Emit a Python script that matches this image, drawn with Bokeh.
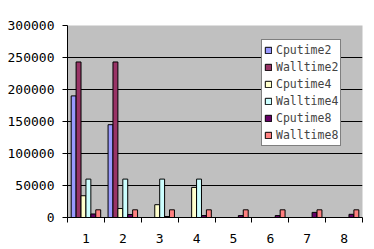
from bokeh.plotting import figure
from bokeh.models import (Range1d, FixedTicker, NumeralTickFormatter, Legend, LegendItem,
                          ColumnDataSource)
from bokeh.embed import file_html
from bokeh.resources import INLINE

categories = ["1", "2", "3", "4", "5", "6", "7", "8"]
series_names = ["Cputime2", "Walltime2", "Cputime4", "Walltime4", "Cputime8", "Walltime8"]
cputime2 = [190000, 145000, 0, 0, 0, 0, 0, 0]
walltime2 = [243000, 243000, 0, 0, 0, 0, 0, 0]
cputime4 = [34000, 14000, 20000, 47000, 0, 0, 0, 0]
walltime4 = [60000, 60000, 60000, 60000, 0, 0, 0, 0]
cputime8 = [5500, 4700, 1500, 3000, 3000, 3000, 8000, 5000]
walltime8 = [12000, 12000, 12000, 12000, 12000, 12000, 12000, 12000]
series_values = [cputime2, walltime2, cputime4, walltime4, cputime8, walltime8]
colors = ["#9999FF", "#993366", "#FFFFCC", "#CCFFFF", "#660066", "#FF8080"]
y_ticks = [0, 50000, 100000, 150000, 200000, 250000, 300000]

FONT = "DejaVu Sans Mono"

p = figure(width=374, height=249, output_backend="svg", toolbar_location=None,
           x_range=Range1d(0.5, 8.5), y_range=Range1d(0, 300000),
           min_border_left=67, min_border_right=12, min_border_top=25, min_border_bottom=32)
p.background_fill_color = "#C0C0C0"
p.border_fill_color = "white"
p.outline_line_color = None

bw = 0.8 / 6
xs = [i + 1 for i in range(len(categories))]
renderers = []
for k, (name, vals, col) in enumerate(zip(series_names, series_values, colors)):
    off = -0.4 + bw * (k + 0.5)
    src = ColumnDataSource(dict(x=[x + off for x in xs], top=vals))
    r = p.vbar(x="x", top="top", bottom=0, width=bw, source=src,
               fill_color=col, line_color="black", line_width=1)
    renderers.append((name, r))

# axes
p.xgrid.grid_line_color = None
p.ygrid.grid_line_color = "black"
p.ygrid.grid_line_width = 1

p.xaxis.ticker = FixedTicker(ticks=xs, minor_ticks=[x - 0.5 for x in xs] + [8.5])
p.xaxis.major_label_overrides = {x: c for x, c in zip(xs, categories)}
p.xaxis.major_tick_out = 0
p.xaxis.major_tick_in = 0
p.xaxis.minor_tick_out = 5
p.xaxis.minor_tick_in = 0
p.xaxis.minor_tick_line_color = "black"
p.xaxis.major_label_standoff = 11
p.xaxis.axis_line_color = "black"

p.yaxis.ticker = FixedTicker(ticks=y_ticks)
p.yaxis.formatter = NumeralTickFormatter(format="0")
p.yaxis.major_tick_out = 5
p.yaxis.major_tick_in = 0
p.yaxis.minor_tick_line_color = None
p.yaxis.major_label_standoff = 8
p.yaxis.axis_line_color = "black"

for ax in (p.xaxis, p.yaxis):
    ax.major_label_text_font = FONT
    ax.major_label_text_font_size = "13px"
    ax.major_label_text_color = "black"
    ax.major_tick_line_color = "black"

legend = Legend(items=[LegendItem(label=n, renderers=[r]) for n, r in renderers],
                location=(194, 71))
legend.border_line_color = "black"
legend.border_line_width = 1
legend.background_fill_color = "white"
legend.background_fill_alpha = 1
legend.label_text_font = FONT
legend.label_text_font_size = "11.5px"
legend.glyph_width = 8
legend.glyph_height = 8
legend.label_height = 16
legend.spacing = 1
legend.padding = 2
legend.margin = 0
legend.label_standoff = 4
p.add_layout(legend, "center")

open("out.html", "w").write(file_html(p, INLINE))
